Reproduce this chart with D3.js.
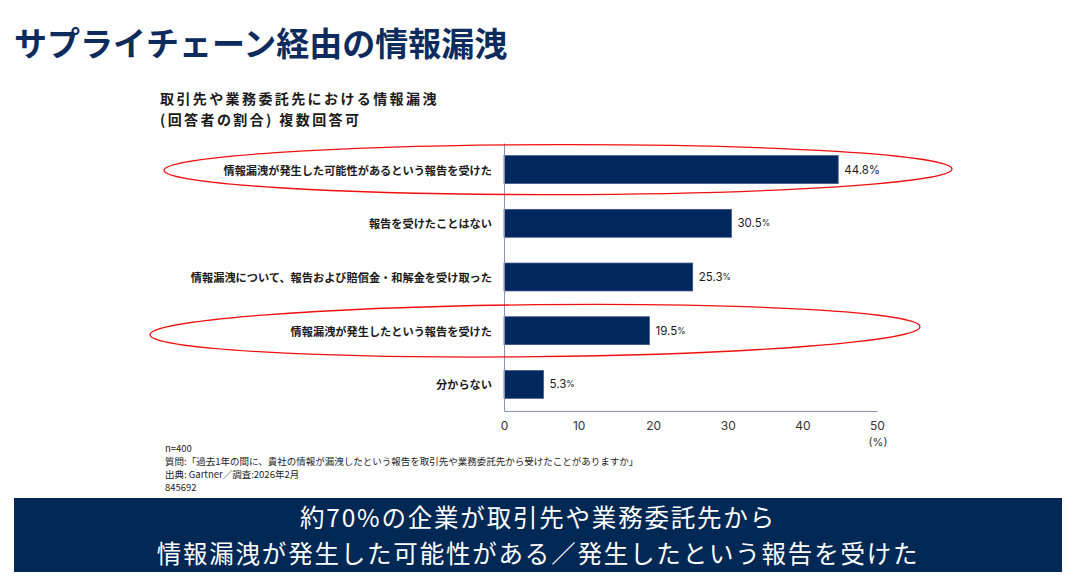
<!DOCTYPE html>
<html>
<head>
<meta charset="utf-8">
<style>
  body { margin: 0; background: #fff; }
  svg { display: block; }
  .jp { font-family: "Noto Sans CJK JP", "Noto Sans", sans-serif; }
  .num { font-family: Inter, "Noto Sans", sans-serif; }
</style>
</head>
<body>
<svg id="chart" width="1076" height="583"></svg>
<script src="https://d3js.org/d3.v7.min.js"></script>
<script>
  // data
  const categories = [
    "情報漏洩が発生した可能性があるという報告を受けた",
    "報告を受けたことはない",
    "情報漏洩について、報告および賠償金・和解金を受け取った",
    "情報漏洩が発生したという報告を受けた",
    "分からない"
  ]
  const values = [44.8, 30.5, 25.3, 19.5, 5.3]
  const ticks = [0, 10, 20, 30, 40, 50]
  const highlighted = [0, 3]

  const notes = [
    "n=400",
    "質問:「過去1年の間に、貴社の情報が漏洩したという報告を取引先や業務委託先から受けたことがありますか」",
    "出典: Gartner／調査:2026年2月",
    "845692"
  ]
  const banner = [
    "約70%の企業が取引先や業務委託先から",
    "情報漏洩が発生した可能性がある／発生したという報告を受けた"
  ]

  const navy = "#0d2b5c"
  const barColor = "#00285f"
  const svg = d3.select("#chart")

  // title
  svg.append("text").attr("class", "jp")
    .attr("x", 14).attr("y", 42)
    .attr("dominant-baseline", "central")
    .attr("font-size", 33).attr("font-weight", 700)
    .attr("fill", navy)
    .text("サプライチェーン経由の情報漏洩")

  // subtitle (two lines)
  svg.selectAll(".sub")
    .data(["取引先や業務委託先における情報漏洩", "(回答者の割合) 複数回答可"])
    .join("text")
    .attr("class", "sub jp")
    .attr("x", 160)
    .attr("y", (d, i) => 98 + i * 20.5)
    .attr("dominant-baseline", "central")
    .attr("font-size", 14)
    .attr("letter-spacing", 2.4)
    .attr("font-weight", 700)
    .attr("fill", "#1a1a1a")
    .text(d => d)

  // scales
  const x = d3.scaleLinear().domain([0, 50]).range([504, 877])
  const y = d3.scaleBand().domain(categories).range([143, 411])
    .paddingInner(0.48).paddingOuter(0.235)

  // bars
  svg.selectAll(".bar")
    .data(values)
    .join("rect")
    .attr("class", "bar")
    .attr("x", x(0))
    .attr("y", (d, i) => y(categories[i]))
    .attr("width", d => x(d) - x(0))
    .attr("height", y.bandwidth())
    .attr("fill", barColor)
    .attr("stroke", "#3b5488")
    .attr("stroke-width", 0.7)

  // value labels
  const vl = svg.selectAll(".val")
    .data(values)
    .join("text")
    .attr("class", "val num")
    .attr("x", d => x(d) + 6)
    .attr("y", (d, i) => y(categories[i]) + y.bandwidth() / 2)
    .attr("dominant-baseline", "central")
    .attr("font-size", 11.5)
    .attr("fill", "#1a1a1a")
  vl.append("tspan").text(d => d.toFixed(1))
  vl.append("tspan")
    .attr("font-size", (d, i) => i === 0 ? 11.5 : 8.5)
    .text("%")

  // category labels
  svg.selectAll(".cat")
    .data(categories)
    .join("text")
    .attr("class", "cat jp")
    .attr("x", 492)
    .attr("y", d => y(d) + y.bandwidth() / 2)
    .attr("text-anchor", "end")
    .attr("dominant-baseline", "central")
    .attr("font-size", 11.2)
    .attr("font-weight", 700)
    .attr("fill", "#1a1a1a")
    .text(d => d)

  // axes
  const axisColor = "#8a92ad"
  const gx = svg.append("g").attr("transform", "translate(0,411)")
    .call(d3.axisBottom(x).tickValues(ticks).tickSize(0).tickPadding(10))
  gx.select(".domain").attr("stroke", axisColor)
  gx.selectAll("text").attr("class", "num").attr("font-size", 12).attr("fill", "#333")

  const gy = svg.append("g").attr("transform", "translate(504,0)")
    .call(d3.axisLeft(y).tickSize(0).tickFormat(""))
  gy.select(".domain").attr("stroke", axisColor)

  svg.append("text").attr("class", "num")
    .attr("x", 878).attr("y", 442)
    .attr("text-anchor", "middle")
    .attr("dominant-baseline", "central")
    .attr("font-size", 11).attr("fill", "#333")
    .text("(%)")

  // red ellipses around highlighted rows
  const ellipses = [
    { cx: 558, rx: 394, ry: 25, rot: -0.1 },
    { cx: 535, rx: 385, ry: 26, rot: -0.6 }
  ]
  highlighted.forEach((idx, k) => {
    const e = ellipses[k]
    const cy = y(categories[idx]) + y.bandwidth() / 2
    svg.append("ellipse")
      .attr("cx", e.cx).attr("cy", cy)
      .attr("rx", e.rx).attr("ry", e.ry)
      .attr("transform", `rotate(${e.rot},${e.cx},${cy})`)
      .attr("fill", "none")
      .attr("stroke", "#f01010")
      .attr("stroke-width", 1.3)
  })

  // footnotes
  svg.selectAll(".note")
    .data(notes)
    .join("text")
    .attr("class", "note jp")
    .attr("x", 165)
    .attr("y", (d, i) => 448 + i * 13)
    .attr("dominant-baseline", "central")
    .attr("font-size", 9.5)
    .attr("fill", "#222")
    .text(d => d)

  // banner
  svg.append("rect")
    .attr("x", 14).attr("y", 498)
    .attr("width", 1048).attr("height", 74)
    .attr("fill", "#002855")
  svg.selectAll(".banner")
    .data(banner)
    .join("text")
    .attr("class", "banner jp")
    .attr("x", 538)
    .attr("y", (d, i) => 516 + i * 36)
    .attr("text-anchor", "middle")
    .attr("dominant-baseline", "central")
    .attr("font-size", 24.5)
    .attr("letter-spacing", 1.8)
    .attr("fill", "#fff")
    .text(d => d)
</script>
</body>
</html>
